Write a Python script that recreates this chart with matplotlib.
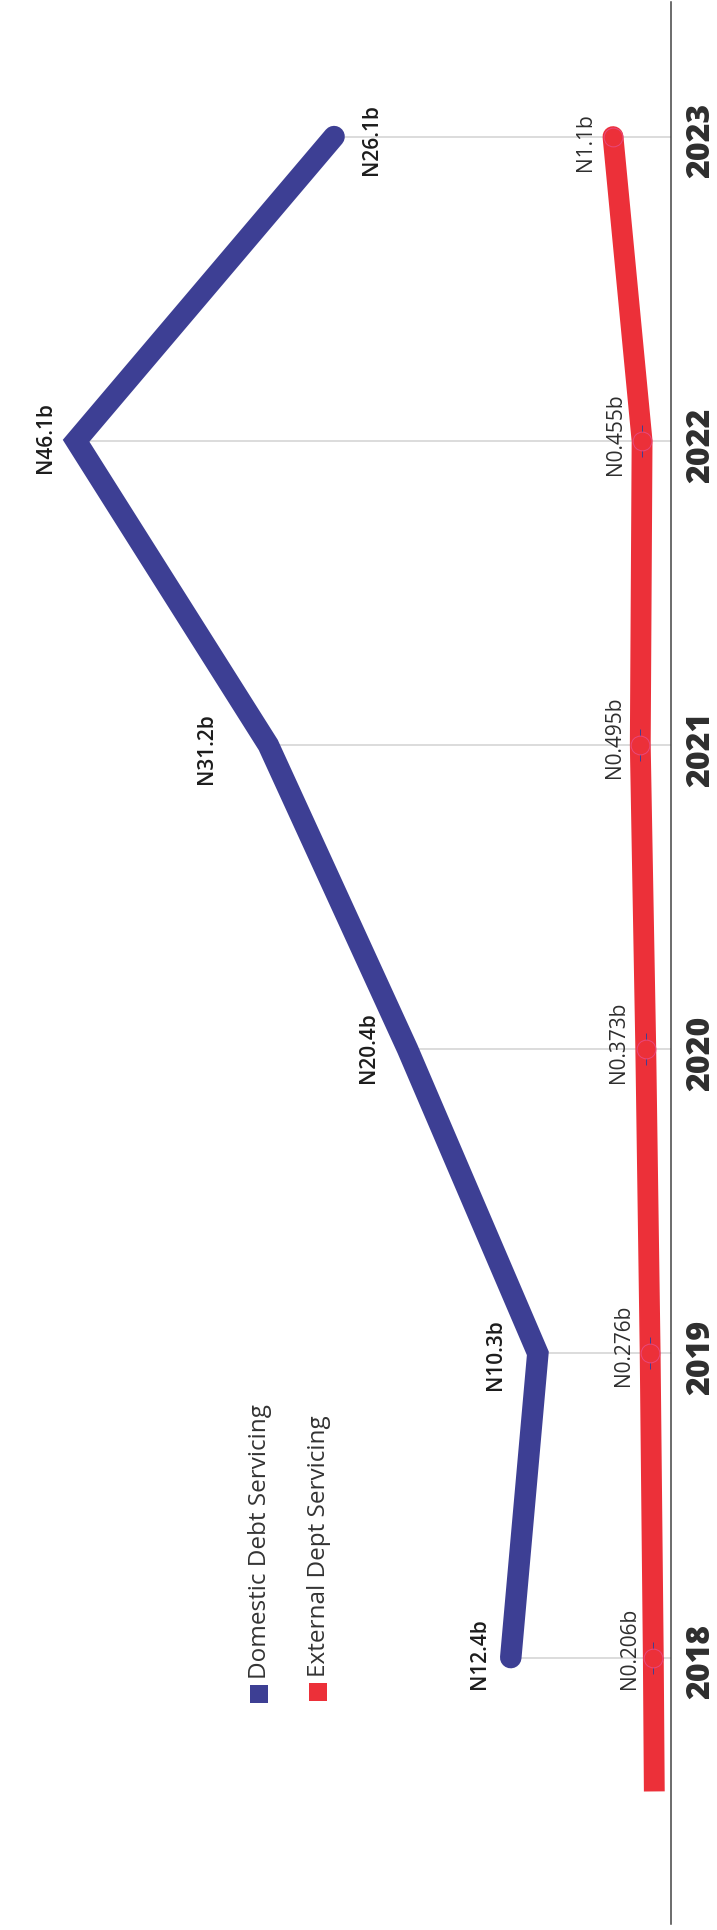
import matplotlib.pyplot as plt
from matplotlib.patches import Rectangle

plt.rcParams["font.family"] = ["Open Sans", "DejaVu Sans"]

# Data
years = [2018, 2019, 2020, 2021, 2022, 2023]
domestic = [12.4, 10.3, 20.4, 31.2, 46.1, 26.1]
external = [0.206, 0.276, 0.373, 0.495, 0.455, 1.1]
domestic_labels = ["N12.4b", "N10.3b", "N20.4b", "N31.2b", "N46.1b", "N26.1b"]
external_labels = ["N0.206b", "N0.276b", "N0.373b", "N0.495b", "N0.455b", "N1.1b"]
# the red line starts a little before the first year
ext_lead_years = [2017.56, 2018]
ext_lead_vals = [0.184, 0.206]

BLUE = "#3d3f94"
RED = "#ec3039"

W, H = 717, 1930
fig = plt.figure(figsize=(W / 100, H / 100), dpi=100)
fig.patch.set_facecolor("white")

# chart is drawn turned on its side: years run upwards, values grow to the left
ax = fig.add_axes([0, 0, 1, 1])
ax.set_xlim(52.0, -3.59)
ax.set_ylim(2017.1045, 2023.449)
ax.axis("off")

ax2 = ax.twiny()
ax2.set_xlim(14.69, -1.206)
ax2.axis("off")
ax2.patch.set_visible(False)

# drop lines and baseline
ax.hlines(years, 0, domestic, color="#d2d2d2", lw=1.1, zorder=1)
ax.axvline(0, ymin=0.003, ymax=0.999, color="#444444", lw=1.1, zorder=2)

ax.plot(domestic, years, color=BLUE, lw=15.5, solid_capstyle="round",
        solid_joinstyle="miter", zorder=3)

ax2.plot(ext_lead_vals, ext_lead_years, color=RED, lw=15, solid_capstyle="butt", zorder=3)
ax2.plot(external, years, color=RED, lw=15, solid_capstyle="round",
         solid_joinstyle="round", zorder=3)
ax2.plot(external[:5], years[:5], ls="none", marker="|", ms=23, mew=0.7,
         color=BLUE, zorder=4)
ax2.plot(external, years, ls="none", marker="o", ms=13.5, mfc=RED,
         mec="#e8487c", mew=0.7, zorder=5)

# value labels (offsets in pixels)
dom_off = [(-31, 4), (-42, -1), (-39, 2), (-62, -4), (-31, 3), (37, -3)]
ext_off = [(-24, 9), (-27, 8), (-27, 7), (-26, 8), (-27, 7), (-27, -6)]
for y, v, t, (dx, dy) in zip(years, domestic, domestic_labels, dom_off):
    ax.annotate(t, (v, y), xytext=(dx * 0.72, dy * 0.72), textcoords="offset points",
                rotation=90, ha="center", va="center", fontsize=15,
                fontweight="semibold", color="#1c1c1c")
for y, v, t, (dx, dy) in zip(years, external, external_labels, ext_off):
    ax2.annotate(t, (v, y), xytext=(dx * 0.72, dy * 0.72), textcoords="offset points",
                 rotation=90, ha="center", va="center", fontsize=15,
                 fontweight="medium", color="#2e2e2e")

# year labels to the right of the baseline
for y in years:
    ax.annotate(str(y), (0.9787, y), xycoords=ax.get_yaxis_transform(),
                xytext=(0, -3), textcoords="offset points", rotation=90,
                ha="center", va="center", fontsize=23, fontweight="heavy",
                color="#2e2e2e")

# legend
def px(x, y):
    return x / W, 1 - y / H

for (x0, y0), col, txt in [((250, 1703), BLUE, "Domestic Debt Servicing"),
                           ((309, 1701), RED, "External Dept Servicing")]:
    fig.patches.append(Rectangle(px(x0, y0), 18 / W, 18 / H, transform=fig.transFigure,
                                 facecolor=col, edgecolor="none"))
    fig.text(*px(x0 + 10, y0 - 24), txt, rotation=90, ha="center", va="bottom",
             fontsize=17.5, fontweight="normal", color="#333333")

plt.savefig("out.png", dpi=100)
